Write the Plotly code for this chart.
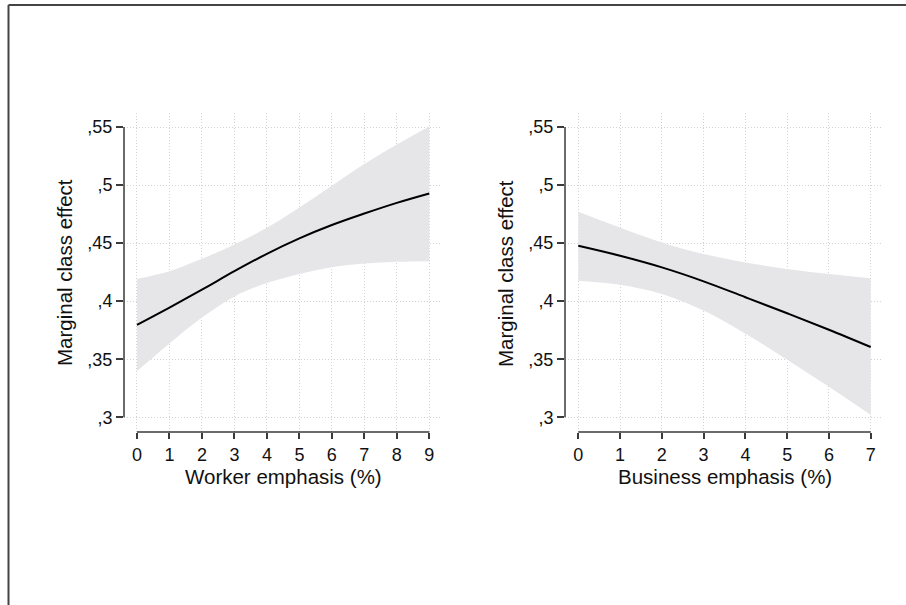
import plotly.graph_objects as go

# ---- data ----
worker_x = [0, 1, 2, 3, 4, 5, 6, 7, 8, 9]
worker_est = [0.3796, 0.3945, 0.4099, 0.4258, 0.4408, 0.4541, 0.4656, 0.4755, 0.4847, 0.4928]
worker_hi = [0.4191, 0.4258, 0.4365, 0.4489, 0.4633, 0.4807, 0.4994, 0.5182, 0.5349, 0.5505]
worker_lo = [0.3397, 0.3636, 0.3859, 0.4041, 0.4157, 0.4235, 0.4292, 0.4324, 0.4339, 0.4344]

business_x = [0, 1, 2, 3, 4, 5, 6, 7]
business_est = [0.4477, 0.4391, 0.4291, 0.4171, 0.4034, 0.3896, 0.3754, 0.3605]
business_hi = [0.4771, 0.4634, 0.4505, 0.4406, 0.4334, 0.4277, 0.4234, 0.4197]
business_lo = [0.4177, 0.4142, 0.4062, 0.3919, 0.3719, 0.3496, 0.3262, 0.3019]

y_tickvals = [0.30, 0.35, 0.40, 0.45, 0.50, 0.55]
y_ticktext = [",3", ",35", ",4", ",45", ",5", ",55"]

y_title = "Marginal class effect"
x_title_left = "Worker emphasis (%)"
x_title_right = "Business emphasis (%)"

# ---- layout helpers (pixel based, figure 906x605, zero margins) ----
W, H = 906, 605
def px(x):
    return x / W
def py(y):
    return 1 - y / H

FONT = "Liberation Sans, Arial, sans-serif"
AXIS_COL = "#3a3a3a"
GRID_COL = "#d2d2d2"
BAND_COL = "#e6e5e8"

fig = go.Figure()

panels = [
    dict(x=worker_x, est=worker_est, hi=worker_hi, lo=worker_lo, xa="x", ya="y"),
    dict(x=business_x, est=business_est, hi=business_hi, lo=business_lo, xa="x2", ya="y2"),
]
for p in panels:
    fig.add_trace(go.Scatter(x=p["x"], y=p["lo"], mode="lines", line=dict(width=0, color=BAND_COL, shape="spline"),
                             xaxis=p["xa"], yaxis=p["ya"], showlegend=False, hoverinfo="skip"))
    fig.add_trace(go.Scatter(x=p["x"], y=p["hi"], mode="lines", line=dict(width=0, color=BAND_COL, shape="spline"),
                             fill="tonexty", fillcolor=BAND_COL,
                             xaxis=p["xa"], yaxis=p["ya"], showlegend=False, hoverinfo="skip"))
    fig.add_trace(go.Scatter(x=p["x"], y=p["est"], mode="lines", line=dict(width=2, color="black", shape="spline"),
                             xaxis=p["xa"], yaxis=p["ya"], showlegend=False))

ydom = [py(432), py(113)]
yrange = [0.2873, 0.5621]

common_x = dict(showline=False, zeroline=False, showgrid=True, gridcolor=GRID_COL, griddash="1px,2px", gridwidth=1,
                ticks="outside", ticklen=6, tickwidth=1.5, tickcolor=AXIS_COL,
                tickfont=dict(family=FONT, size=18, color="#111"), dtick=1, tick0=0, automargin=False)
common_y = dict(showline=False, zeroline=False, showgrid=True, gridcolor=GRID_COL, griddash="1px,2px", gridwidth=1,
                ticks="outside", ticklen=7, tickwidth=1.5, tickcolor=AXIS_COL,
                tickvals=y_tickvals, ticktext=y_ticktext, range=yrange, domain=ydom,
                tickfont=dict(family=FONT, size=18, color="#111"), automargin=False)

fig.update_layout(
    width=W, height=H,
    margin=dict(l=0, r=0, t=0, b=0),
    paper_bgcolor="white", plot_bgcolor="white",
    xaxis=dict(common_x, domain=[px(124), px(440)], range=[-0.40, 9.33], anchor="y"),
    yaxis=dict(common_y, anchor="x"),
    xaxis2=dict(common_x, domain=[px(565), px(882)], range=[-0.318, 7.27], anchor="y2"),
    yaxis2=dict(common_y, anchor="x2"),
    showlegend=False,
)

shapes = []
# axis lines spanning only the tick range
for xa, ya, xmax in [("x", "y", 9), ("x2", "y2", 7)]:
    shapes.append(dict(type="line", xref=f"{xa} domain", yref=ya, x0=0, x1=0, y0=0.30, y1=0.55,
                       line=dict(color=AXIS_COL, width=1.5)))
    shapes.append(dict(type="line", xref=xa, yref=f"{ya} domain", x0=0, x1=xmax, y0=0, y1=0,
                       line=dict(color=AXIS_COL, width=1.5)))
# outer frame (left and top edges visible)
shapes.append(dict(type="line", xref="paper", yref="paper", x0=px(8.5), x1=px(8.5), y0=0, y1=py(5),
                   line=dict(color="#444444", width=2)))
shapes.append(dict(type="line", xref="paper", yref="paper", x0=px(8.5), x1=1, y0=py(5), y1=py(5),
                   line=dict(color="#444444", width=2)))
fig.update_layout(shapes=shapes)

ann = []
for cx in [65, 506]:
    ann.append(dict(text=y_title, x=px(cx), y=py(273), xref="paper", yref="paper", showarrow=False,
                    textangle=-90, xanchor="center", yanchor="middle",
                    font=dict(family=FONT, size=20.5, color="#111")))
for cx, t in [(283, x_title_left), (724.5, x_title_right)]:
    ann.append(dict(text=t, x=px(cx), y=py(477), xref="paper", yref="paper", showarrow=False,
                    xanchor="center", yanchor="middle",
                    font=dict(family=FONT, size=20.5, color="#111")))
fig.update_layout(annotations=ann)

fig.write_html("out.html", config={"displayModeBar": False},
               post_script="document.body.style.margin='0px';document.body.style.overflow='hidden';")
